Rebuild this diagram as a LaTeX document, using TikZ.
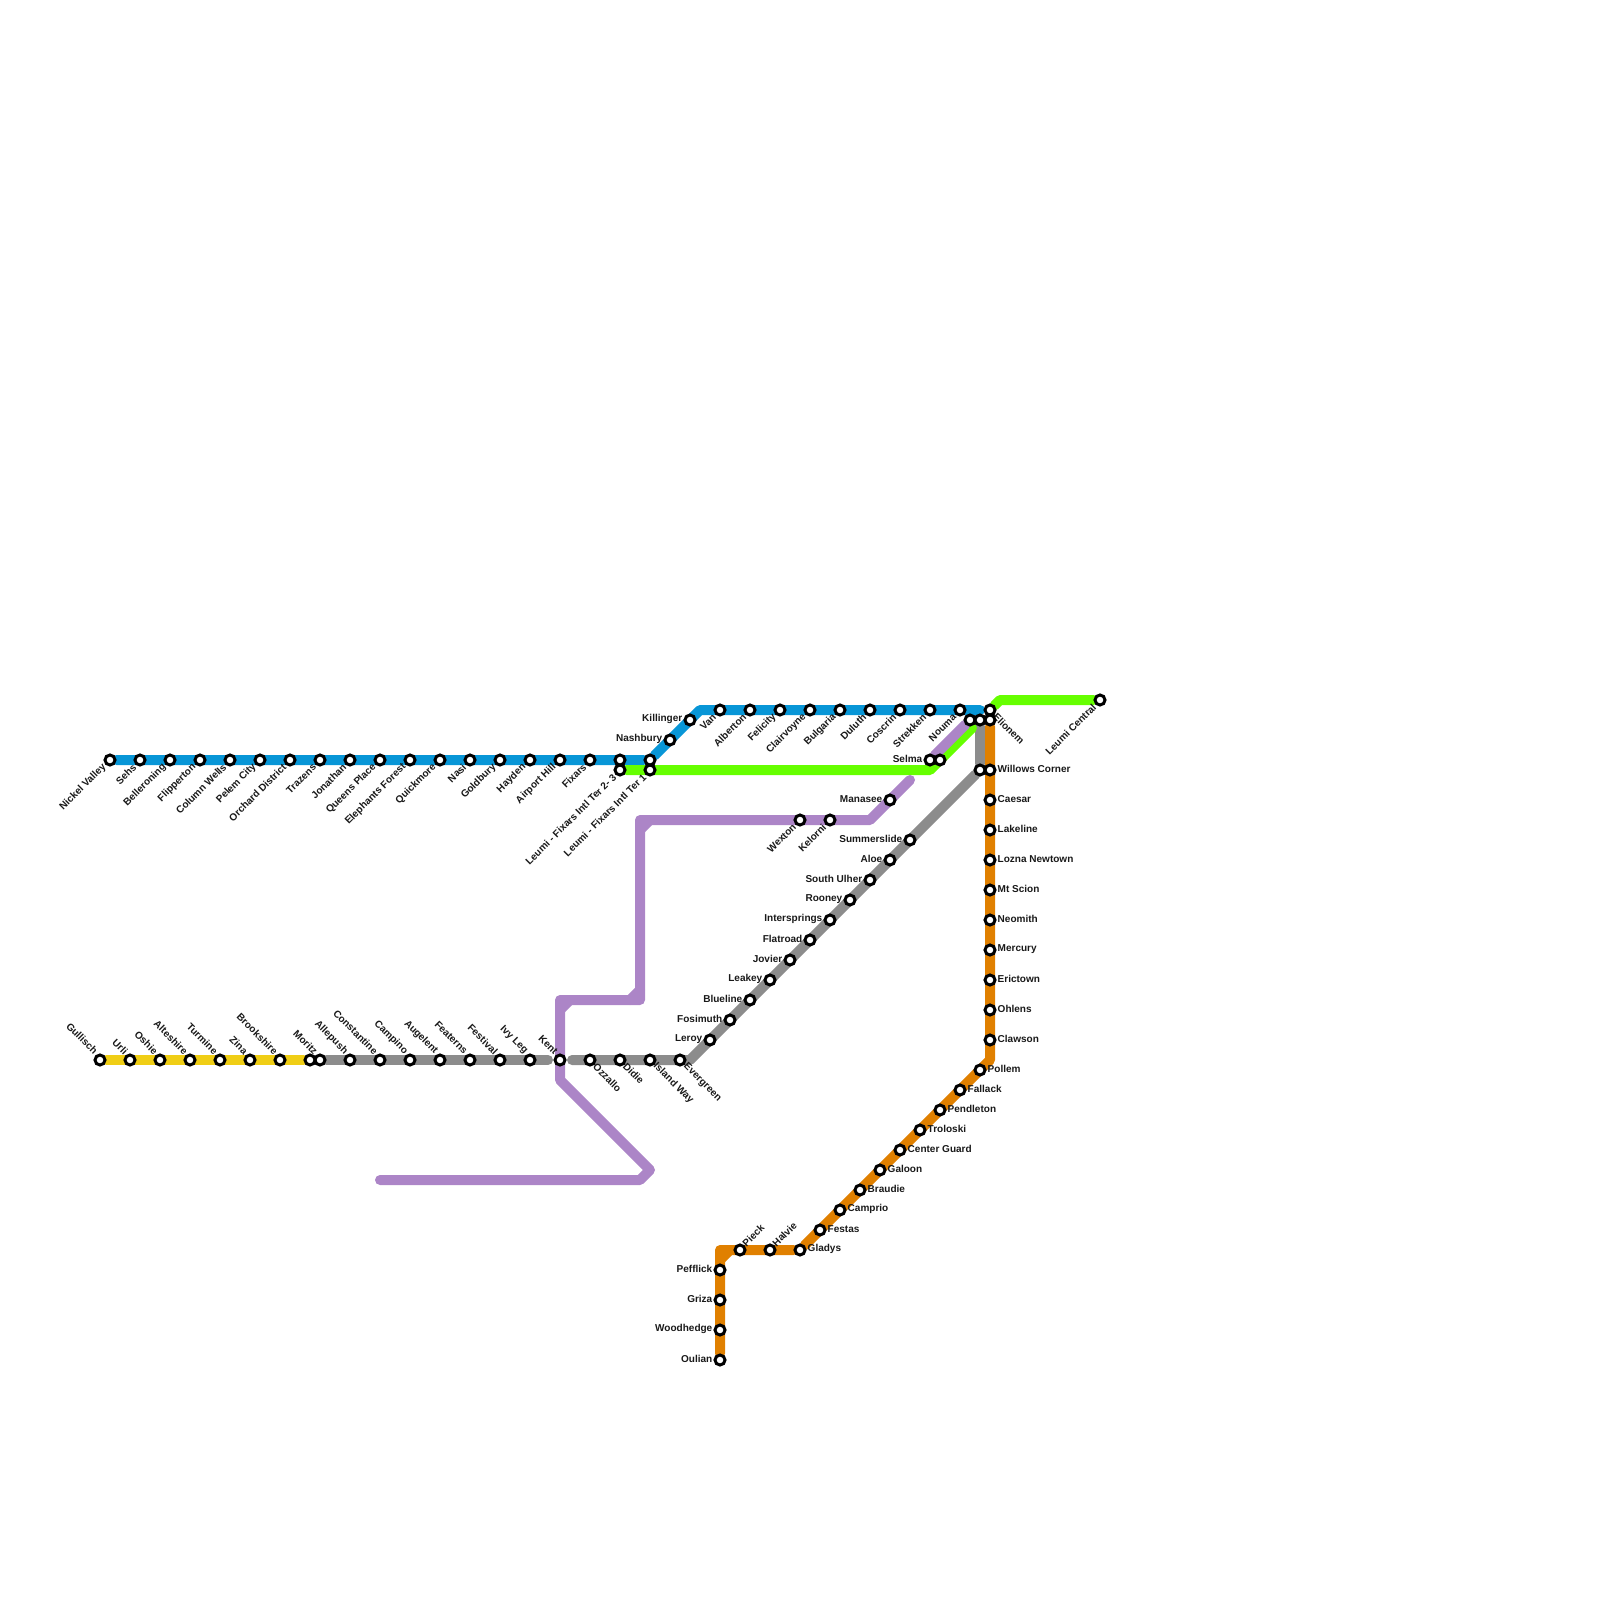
\documentclass[tikz,border=0pt]{standalone}
\usepackage{fontspec}
\setmainfont{Liberation Sans}
\usetikzlibrary{backgrounds}
\definecolor{lineblue}{HTML}{0896D7}
\definecolor{linegreen}{HTML}{66FF00}
\definecolor{linepurple}{HTML}{AC85C7}
\definecolor{linegray}{HTML}{8C8C8C}
\definecolor{lineyellow}{HTML}{F0CE15}
\definecolor{lineorange}{HTML}{E08000}
\tikzset{
  stn/.style={circle, draw=black, fill=white, line width=0.3mm, minimum size=1mm, inner sep=0pt},
  metro/.style={line width=1mm, line join=round, line cap=round},
  lb/.style={inner sep=0pt, font=\fontsize{2.85pt}{3.4pt}\selectfont\bfseries, text=black!90},
  lbsw/.style={lb, rotate=45, anchor=east, xshift=-0.72mm},
  lbnw/.style={lb, rotate=-45, anchor=east, xshift=-0.74mm, yshift=0.25mm},
  lbse/.style={lb, rotate=-45, anchor=west, xshift=0.64mm},
  lbne/.style={lb, rotate=45, anchor=west, xshift=0.6mm, yshift=0.1mm},
  lbw/.style={lb, anchor=east, xshift=-0.7mm, yshift=0.08mm},
  lbe/.style={lb, anchor=west, xshift=0.7mm, yshift=0.08mm}
}
\begin{document}
\begin{tikzpicture}[x=1mm, y=-1mm]
\useasboundingbox (0,0) rectangle (160,160);

\foreach \x/\y/\id/\t in {11/76/nickel/Nickel Valley, 14/76/sehs/Sehs, 17/76/belle/Belleroning, 20/76/flipper/Flipperton,
  23/76/column/Column Wells, 26/76/pelem/Pelem City, 29/76/orchard/Orchard District, 32/76/trazens/Trazens,
  35/76/jonathan/Jonathan, 38/76/queens/Queens Place, 41/76/elephants/Elephants Forest, 44/76/quick/Quickmore,
  47/76/nasi/Nasi, 50/76/goldbury/Goldbury, 53/76/hayden/Hayden, 56/76/airport/Airport Hill, 59/76/fixars/Fixars,
  62/77/terb/Leumi - Fixars Intl Ter 2- 3, 65/77/tera/Leumi - Fixars Intl Ter 1,
  72/71/van/Van, 75/71/alberton/Alberton, 78/71/felicity/Felicity, 81/71/clair/Clairvoyne, 84/71/bulgaria/Bulgaria,
  87/71/duluth/Duluth, 90/71/coscrin/Coscrin, 93/71/strekken/Strekken, 96/71/nouma/Nouma,
  80/82/wexton/Wexton, 83/82/kelorni/Kelorni, 110/70/central/Leumi Central} {
  \node[stn] (\id) at (\x,\y) {};
  \node[lbsw] (\id-t) at (\id) {\t};
}
\foreach \x/\y/\id/\t in {10/106/gullisch/Gullisch, 13/106/urli/Urli, 16/106/oshie/Oshie, 19/106/alte/Alteshire,
  22/106/turmine/Turmine, 25/106/zina/Zina, 28/106/brook/Brookshire, 32/106/moritz/Moritz,
  35/106/allepush/Allepush, 38/106/constantine/Constantine, 41/106/campino/Campino, 44/106/augelent/Augelent,
  47/106/featerns/Featerns, 50/106/festival/Festival, 53/106/ivyleg/Ivy Leg, 56/106/kent/Kent} {
  \node[stn] (\id) at (\x,\y) {};
  \node[lbnw] (\id-t) at (\id) {\t};
}
\foreach \x/\y/\id/\t in {59/106/ozzallo/Ozzallo, 62/106/didie/Didie, 65/106/island/Island Way, 68/106/evergreen/Evergreen,
  99/71/elionem/Elionem} {
  \node[stn] (\id) at (\x,\y) {};
  \node[lbse] (\id-t) at (\id) {\t};
}
\foreach \x/\y/\id/\t in {74/125/pieck/Pieck, 77/125/halvie/Halvie} {
  \node[stn] (\id) at (\x,\y) {};
  \node[lbne] (\id-t) at (\id) {\t};
}
\foreach \x/\y/\id/\t in {69/72/killinger/Killinger, 67/74/nashbury/Nashbury, 93/76/selma/Selma, 89/80/manasee/Manasee,
  91/84/summer/Summerslide, 89/86/aloe/Aloe, 87/88/ulher/South Ulher, 85/90/rooney/Rooney, 83/92/inter/Intersprings,
  81/94/flatroad/Flatroad, 79/96/jovier/Jovier, 77/98/leakey/Leakey, 75/100/blueline/Blueline, 73/102/fosimuth/Fosimuth,
  71/104/leroy/Leroy, 72/127/pefflick/Pefflick, 72/130/griza/Griza, 72/133/woodhedge/Woodhedge, 72/136/oulian/Oulian} {
  \node[stn] (\id) at (\x,\y) {};
  \node[lbw] (\id-t) at (\id) {\t};
}
\foreach \x/\y/\id/\t in {99/77/willows/Willows Corner, 99/80/caesar/Caesar, 99/83/lakeline/Lakeline, 99/86/lozna/Lozna Newtown,
  99/89/scion/Mt Scion, 99/92/neomith/Neomith, 99/95/mercury/Mercury, 99/98/erictown/Erictown, 99/101/ohlens/Ohlens,
  99/104/clawson/Clawson, 98/107/pollem/Pollem, 96/109/fallack/Fallack, 94/111/pendleton/Pendleton, 92/113/troloski/Troloski,
  90/115/guard/Center Guard, 88/117/galoon/Galoon, 86/119/braudie/Braudie, 84/121/camprio/Camprio, 82/123/festas/Festas,
  80/125/gladys/Gladys} {
  \node[stn] (\id) at (\x,\y) {};
  \node[lbe] (\id-t) at (\id) {\t};
}
\foreach \x/\y/\id in {62/76/blueb, 65/76/bluea, 99/72/orangetop, 97/72/purpletop, 98/72/graytop, 98/77/graymid,
  94/76/greenselma, 31/106/yellowend} {
  \node[stn] (\id) at (\x,\y) {};
}

\coordinate (bluec) at (70,71);
\coordinate (bluee) at (98,71);
\coordinate (greenc) at (93,77);
\coordinate (greene) at (97.2,72.8);
\coordinate (greenf) at (100,70);
\coordinate (kentl) at (54.8,106);
\coordinate (kentr) at (57.2,106);
\coordinate (graya) at (69,106);
\coordinate (pura) at (91,78);
\coordinate (purb) at (87,82);
\coordinate (purc) at (64,82);
\coordinate (purd) at (65,82);
\coordinate (pure) at (64,83);
\coordinate (purf) at (64,100);
\coordinate (purg) at (63,100);
\coordinate (purh) at (64,99);
\coordinate (puri) at (56,100);
\coordinate (purj) at (57,100);
\coordinate (purk) at (56,101);
\coordinate (purl) at (56,108);
\coordinate (purm) at (65,117);
\coordinate (purn) at (64,118);
\coordinate (puro) at (38,118);
\coordinate (orga) at (99,106);
\coordinate (orgb) at (72,125);
\coordinate (orgc) at (73,125);
\coordinate (orgd) at (72,126);

\begin{pgfonlayer}{background}
\draw[metro, linegray] (moritz)--(kentl);
\draw[metro, linegray] (kentr)--(graya)--(graymid)--(graytop);
\draw[metro, lineyellow] (gullisch)--(yellowend);
\draw[metro, lineblue] (nickel)--(bluea)--(bluec)--(bluee);
\draw[metro, linegreen] (terb)--(greenc)--(greene);
\draw[metro, linegreen] (elionem)--(greenf)--(central);
\draw[metro, linepurple] (purpletop)--(selma);
\draw[metro, linepurple] (pura)--(purb)--(purc)--(purf)--(puri)--(purl)--(purm)--(purn)--(puro);
\draw[metro, linepurple] (purd)--(pure);
\draw[metro, linepurple] (purg)--(purh);
\draw[metro, linepurple] (purj)--(purk);
\draw[metro, lineorange] (orangetop)--(orga)--(gladys)--(orgb)--(oulian);
\draw[metro, lineorange] (orgc)--(orgd);
\end{pgfonlayer}
\end{tikzpicture}
\end{document}
